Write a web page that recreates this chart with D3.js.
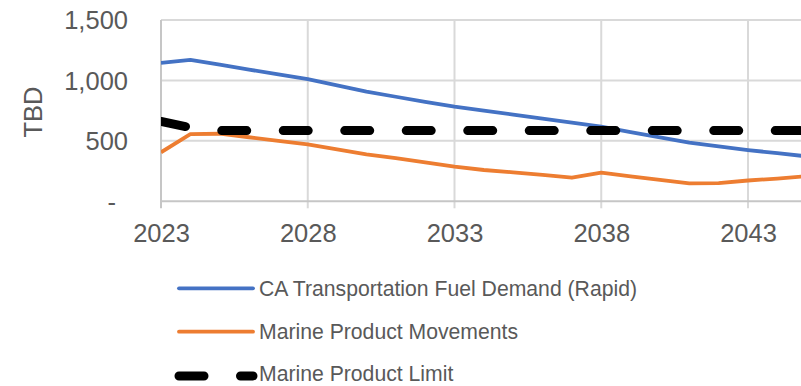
<!DOCTYPE html>
<html>
<head>
<meta charset="utf-8">
<script src="https://cdn.jsdelivr.net/npm/d3@7"></script>
<style>
  html, body { margin: 0; padding: 0; background: #fff; }
  svg { display: block; font-family: "Liberation Sans", Arial, sans-serif; }
</style>
</head>
<body>
<svg id="chart" width="801" height="386"></svg>
<script>
// Yearly series (thousand barrels per day)
const years = d3.range(2023, 2046);
const fuelDemand = [1145, 1170, 1130, 1090, 1050, 1010, 960, 907, 865, 823, 783, 750, 717, 684, 650, 617, 573, 529, 485, 455, 424, 398, 372];
const marineMovements = [405, 555, 559, 530, 500, 471, 430, 389, 357, 322, 286, 259, 240, 218, 195, 237, 207, 178, 149, 150, 172, 188, 208];
const marineLimit = [660, 610, 585, 585, 585, 585, 585, 585, 585, 585, 585, 585, 585, 585, 585, 585, 585, 585, 585, 585, 585, 585, 585];

const xTicks = [2023, 2028, 2033, 2038, 2043];
const yTicks = [0, 500, 1000, 1500];
const yAxisTitle = "TBD";

const seriesNames = [
  "CA Transportation Fuel Demand (Rapid)",
  "Marine Product Movements",
  "Marine Product Limit"
];

const W = 801, H = 386;
const svg = d3.select("#chart");
svg.append("rect").attr("width", W).attr("height", H).attr("fill", "#fff");

const x = d3.scaleLinear().domain([2023, 2045]).range([161, 806.7]);
const y = d3.scaleLinear().domain([0, 1500]).range([201.3, 20]);

const textColor = "#595959";
const gridColor = "#d9d9d9";
const axisColor = "#c6c6c6";

// Horizontal gridlines
svg.append("g").selectAll("line").data(yTicks.filter(d => d > 0)).join("line")
  .attr("x1", x(2023)).attr("x2", W)
  .attr("y1", d => y(d)).attr("y2", d => y(d))
  .attr("stroke", gridColor).attr("stroke-width", 2);

// Vertical gridlines, running past the axis as tick marks
svg.append("g").selectAll("line").data(xTicks.filter(d => d > 2023)).join("line")
  .attr("x1", d => x(d)).attr("x2", d => x(d))
  .attr("y1", y(1500)).attr("y2", y(0) + 7)
  .attr("stroke", gridColor).attr("stroke-width", 2);

// Axis lines
svg.append("line").attr("x1", x(2023)).attr("x2", W)
  .attr("y1", y(0)).attr("y2", y(0))
  .attr("stroke", axisColor).attr("stroke-width", 2);
svg.append("line").attr("x1", x(2023)).attr("x2", x(2023))
  .attr("y1", y(1500)).attr("y2", y(0) + 7)
  .attr("stroke", axisColor).attr("stroke-width", 2);

// Bottom axis labels
const xAxis = svg.append("g")
  .attr("transform", `translate(0,${y(0)})`)
  .call(d3.axisBottom(x).tickValues(xTicks).tickFormat(d3.format("d")).tickSize(0));
xAxis.select(".domain").remove();
xAxis.selectAll("text")
  .attr("y", 41).attr("dy", null)
  .attr("fill", textColor)
  .style("font-size", "25.5px")
  .style("font-family", "'Liberation Sans', Arial, sans-serif");

// Left axis labels (accounting style: zero shown as a dash)
const yAxis = svg.append("g")
  .attr("transform", `translate(${x(2023)},0)`)
  .call(d3.axisLeft(y).tickValues(yTicks)
    .tickFormat(d => d === 0 ? "-" : d3.format(",")(d)).tickSize(0));
yAxis.select(".domain").remove();
yAxis.selectAll("text")
  .attr("x", d => d === 0 ? -45 : -33)
  .attr("dy", "0.35em")
  .attr("fill", textColor)
  .style("font-size", "25.5px")
  .style("font-family", "'Liberation Sans', Arial, sans-serif");

svg.append("text")
  .attr("transform", "translate(42,112) rotate(-90)")
  .attr("text-anchor", "middle")
  .attr("fill", textColor)
  .style("font-size", "25.5px")
  .text(yAxisTitle);

// Series lines
svg.append("clipPath").attr("id", "plotClip")
  .append("rect").attr("x", x(2023)).attr("y", 0).attr("width", W - x(2023)).attr("height", H);

const line = d3.line().x(d => x(d[0])).y(d => y(d[1]));
const plot = svg.append("g").attr("clip-path", "url(#plotClip)");

const dashPattern = "25 36.5";

const series = [
  { values: fuelDemand, color: "#4472c4", width: 3.8, dash: null, cap: "butt" },
  { values: marineMovements, color: "#ed7d31", width: 3.8, dash: null, cap: "butt" },
  { values: marineLimit, color: "#000000", width: 9, dash: dashPattern, cap: "round" }
];

series.forEach(s => {
  plot.append("path")
    .datum(years.map((yr, i) => [yr, s.values[i]]))
    .attr("d", line)
    .attr("fill", "none")
    .attr("stroke", s.color)
    .attr("stroke-width", s.width)
    .attr("stroke-linejoin", "round")
    .attr("stroke-linecap", s.cap)
    .attr("stroke-dasharray", s.dash);
});

// Legend
const legendRows = [288.3, 331.7, 376];
const legendBaselines = [296, 339.3, 381];
const legend = svg.append("g");
series.forEach((s, i) => {
  legend.append("line")
    .attr("x1", 179).attr("x2", 253)
    .attr("y1", legendRows[i]).attr("y2", legendRows[i])
    .attr("stroke", s.color)
    .attr("stroke-width", s.width)
    .attr("stroke-linecap", "round")
    .attr("stroke-dasharray", s.dash);
  legend.append("text")
    .attr("x", 259).attr("y", legendBaselines[i])
    .attr("fill", textColor)
    .style("font-size", "21.2px")
    .text(seriesNames[i]);
});
</script>
</body>
</html>
